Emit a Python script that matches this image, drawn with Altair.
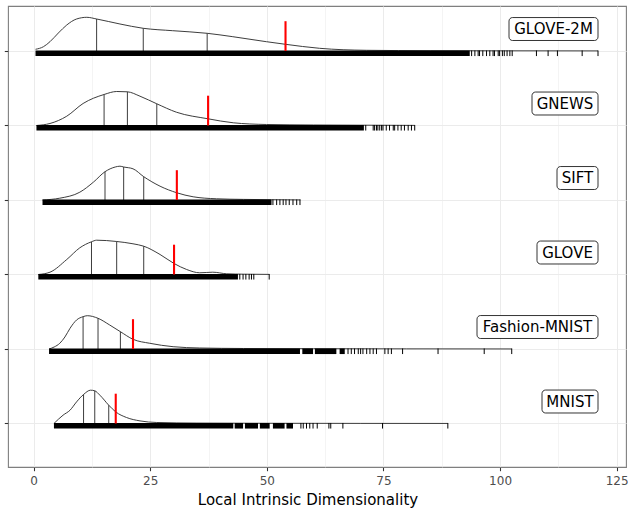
import altair as alt
import pandas as pd

# ---------------- data ----------------
DATASETS = ["GLOVE-2M", "GNEWS", "SIFT", "GLOVE", "Fashion-MNIST", "MNIST"]

# density curves: x values and ridge heights (arbitrary units, ~34 at the peak)
GLOVE2M_X = [0.4, 2.1, 3.5, 5.3, 7.1, 9.2, 11.4, 13.5, 18.5, 23.5, 29.8, 37.2, 42.7, 49.9, 54.0, 61.3, 71.4, 85, 100, 121]
GLOVE2M_D = [1.7, 4.3, 9.3, 18, 26, 32, 33.7, 32, 27, 22.7, 20.3, 17.7, 14.3, 9.3, 6.7, 2.7, 0.7, 0.3, 0.2, 0.1]
GNEWS_X = [0.6, 3.5, 7.1, 10.6, 15.1, 17.8, 20.1, 22.8, 26.4, 30.6, 37.4, 42.8, 49.9, 60, 70, 81.7]
GNEWS_D = [0, 2, 9.3, 22, 31, 34, 33.7, 29.3, 21.7, 13.3, 6.7, 2.7, 1, 0.5, 0.3, 0.1]
SIFT_X = [1.9, 5.6, 9.9, 12.8, 15.3, 17.5, 18.5, 19.3, 21.3, 23.6, 27.1, 30.7, 34.2, 39.2, 45, 51, 57.2]
SIFT_D = [0, 1.8, 7.8, 17.8, 28.3, 33, 33.8, 33, 31.2, 23.3, 13.8, 7.2, 3.2, 1.2, 0.6, 0.3, 0.1]
GLOVE_X = [1.0, 3.5, 7.1, 9.9, 12.4, 13.5, 17.8, 21.3, 23.6, 27.1, 30.1, 32.8, 35.6, 38.4, 41.4, 45, 50.5]
GLOVE_D = [0, 2.3, 15, 26.7, 32.7, 34.3, 33, 30.7, 28.3, 20, 11, 5, 1.7, 2.3, 0.7, 0.3, 0.1]
FMNIST_X = [3.3, 4.4, 5.6, 6.7, 7.8, 9.2, 10.6, 11.5, 13.8, 16.3, 18.6, 21.3, 24.9, 29.9, 35.6, 45, 60, 80, 102.5]
FMNIST_D = [0, 2, 5.7, 12, 20.7, 29, 32.3, 33.3, 30.7, 24, 17.3, 9.7, 5.7, 2.3, 1, 0.5, 0.3, 0.15, 0.05]
MNIST_X = [4.35, 6.3, 7.8, 9.2, 10.7, 12.2, 13.1, 14.2, 16.1, 17.6, 19.9, 22.8, 26.4, 35, 50, 70, 88.8]
MNIST_D = [0, 8.3, 13.3, 21.6, 29, 33.3, 32.7, 28.3, 18.3, 11.6, 6, 2.6, 1, 0.4, 0.2, 0.1, 0.05]

# quartile lines (x) and the ridge height at each
GLOVE2M_Q = [13.5, 23.5, 37.2]
GLOVE2M_QD = [32, 22.7, 17.7]
GNEWS_Q = [15.1, 20.1, 26.4]
GNEWS_QD = [31, 33.7, 21.7]
SIFT_Q = [15.3, 19.3, 23.6]
SIFT_QD = [28.3, 33, 23.3]
GLOVE_Q = [12.4, 17.8, 23.6]
GLOVE_QD = [32.7, 33, 28.3]
FMNIST_Q = [10.6, 13.8, 18.6]
FMNIST_QD = [32.3, 30.7, 17.3]
MNIST_Q = [10.7, 13.1, 16.1]
MNIST_QD = [29, 32.7, 18.3]

# red markers
RED_X = [54.0, 37.4, 30.7, 30.1, 21.3, 17.6]

# rug: dense stretches (start, end) and isolated ticks
GLOVE2M_RUG = [(0.4, 93.5)]
GLOVE2M_TICKS = [93.9, 94.6, 95.3, 95.6, 96.3, 97.1, 97.8, 98.5, 98.8, 99.6, 99.9, 100.5,
                 100.9, 101.5, 102.1, 102.6, 107.8, 110.3, 112.3, 117.6, 121.0]
GNEWS_RUG = [(0.6, 70.8)]
GNEWS_TICKS = [71.2, 72.8, 73.1, 73.5, 73.8, 74.2, 74.6, 74.9, 75.6, 76.3, 77.1, 77.4,
               78.1, 78.8, 79.5, 80.3, 81.0, 81.7]
SIFT_RUG = [(1.9, 51.0)]
SIFT_TICKS = [51.3, 52.1, 52.8, 53.5, 54.1, 54.8, 55.6, 56.4, 57.1]
GLOVE_RUG = [(1.0, 43.8)]
GLOVE_TICKS = [44.2, 44.9, 45.5, 46.2, 46.7, 47.2, 50.5]
FMNIST_RUG = [(3.3, 57.1), (57.6, 59.9), (60.3, 64.9), (65.6, 66.7)]
FMNIST_TICKS = [67.4, 68.1, 68.8, 69.6, 70.1, 70.6, 71.4, 72.1, 72.8, 73.5, 75.3, 76.0,
                76.7, 79.1, 86.7, 96.6, 102.5]
MNIST_RUG = [(4.35, 42.8), (43.1, 44.9), (45.3, 48.1), (48.5, 50.6), (51.3, 53.8), (54.2, 55.6)]
MNIST_TICKS = [57.3, 57.8, 58.5, 59.2, 59.9, 60.8, 63.3, 63.7, 66.3, 74.8, 88.8]

LABEL_X = 121.0  # labels sit at the overall maximum, right-aligned

# ---------------- styling constants ----------------
HEIGHT_PER_ROW = 74.5      # ridge-height units per row spacing
RED_LEN = 0.40             # red marker length, rows
RUG_TOP, RUG_BOT = 0.007, -0.068
LABEL_DY = 0.295
LABEL_HALF_H = 0.154
LABEL_BOX_PX = {"GLOVE-2M": 89, "GNEWS": 66, "SIFT": 41, "GLOVE": 61,
                "Fashion-MNIST": 121, "MNIST": 56}
W, H = 618, 461
XDOM = [-5.5, 127]
YDOM = [0.416, 6.604]
PX_PER_X = W / (XDOM[1] - XDOM[0])
FONT = "DejaVu Sans"

curves = [(GLOVE2M_X, GLOVE2M_D), (GNEWS_X, GNEWS_D), (SIFT_X, SIFT_D),
          (GLOVE_X, GLOVE_D), (FMNIST_X, FMNIST_D), (MNIST_X, MNIST_D)]
quarts = [(GLOVE2M_Q, GLOVE2M_QD), (GNEWS_Q, GNEWS_QD), (SIFT_Q, SIFT_QD),
          (GLOVE_Q, GLOVE_QD), (FMNIST_Q, FMNIST_QD), (MNIST_Q, MNIST_QD)]
rugs = [(GLOVE2M_RUG, GLOVE2M_TICKS), (GNEWS_RUG, GNEWS_TICKS), (SIFT_RUG, SIFT_TICKS),
        (GLOVE_RUG, GLOVE_TICKS), (FMNIST_RUG, FMNIST_TICKS), (MNIST_RUG, MNIST_TICKS)]

curve_rows, q_rows, red_rows, seg_rows, tick_rows, lab_rows = [], [], [], [], [], []
for i, name in enumerate(DATASETS):
    row = 6 - i
    xs_, ds_ = curves[i]
    for x, d in zip(xs_, ds_):
        curve_rows.append({"set": name, "row": row, "x": x, "top": row + d / HEIGHT_PER_ROW})
    for x, d in zip(*quarts[i]):
        q_rows.append({"set": name, "row": row, "x": x, "top": row + d / HEIGHT_PER_ROW})
    red_rows.append({"set": name, "row": row, "x": RED_X[i], "top": row + RED_LEN})
    segs, ticks = rugs[i]
    for a, b in segs:
        seg_rows.append({"set": name, "x0": a, "x1": b, "yt": row + RUG_TOP, "yb": row + RUG_BOT})
    for t in ticks:
        tick_rows.append({"set": name, "x": t, "yt": row + RUG_TOP, "yb": row + RUG_BOT})
    bx0 = LABEL_X - LABEL_BOX_PX[name] / PX_PER_X
    lab_rows.append({"set": name, "bx0": bx0, "bx1": LABEL_X, "cx": (bx0 + LABEL_X) / 2,
                     "yc": row + LABEL_DY, "yt": row + LABEL_DY + LABEL_HALF_H,
                     "yb": row + LABEL_DY - LABEL_HALF_H})

curve_df = pd.DataFrame(curve_rows)
q_df = pd.DataFrame(q_rows)
red_df = pd.DataFrame(red_rows)
seg_df = pd.DataFrame(seg_rows)
tick_df = pd.DataFrame(tick_rows)
lab_df = pd.DataFrame(lab_rows)

xscale = alt.Scale(domain=XDOM, nice=False, zero=False)
yscale = alt.Scale(domain=YDOM, nice=False, zero=False)

x_axis = alt.Axis(
    values=[0, 12.5, 25, 37.5, 50, 62.5, 75, 87.5, 100, 112.5, 125],
    labelExpr="datum.value % 25 === 0 ? format(datum.value, 'd') : ''",
    grid=True, gridColor="#ebebeb",
    gridWidth={"condition": {"test": "datum.value % 25 === 0", "value": 1.07}, "value": 0.55},
    tickOpacity={"condition": {"test": "datum.value % 25 === 0", "value": 1}, "value": 0},
    tickColor="#333333", tickSize=3.7, tickWidth=1.07,
    domain=False,
    labelFont=FONT, labelFontSize=12, labelColor="#4d4d4d",
    labelBaseline="alphabetic", labelPadding=13.3,
    titleFont=FONT, titleFontSize=15, titleFontWeight="normal", titleColor="black",
    titleBaseline="alphabetic", titleX=299.5, titleY=37, titleAlign="center",
)
y_axis = alt.Axis(
    values=[1, 2, 3, 4, 5, 6], labels=False, ticks=True, tickSize=3.7,
    tickColor="#333333", tickWidth=1.07, grid=True, gridColor="#ebebeb",
    gridWidth=1.07, domain=False, title=None,
)


def X(f):
    return alt.X(f, type="quantitative", scale=xscale, axis=x_axis,
                 title="Local Intrinsic Dimensionality")


def Y(f):
    return alt.Y(f, type="quantitative", scale=yscale, axis=y_axis, title=None)


area = alt.Chart(curve_df).mark_area(fill="white", interpolate="monotone").encode(
    x=X("x"), y=Y("top"), y2=alt.Y2("row"), detail="set:N")
line = alt.Chart(curve_df).mark_line(color="#333333", strokeWidth=0.95, interpolate="monotone").encode(
    x=X("x"), y=Y("top"), detail="set:N")
qlines = alt.Chart(q_df).mark_rule(color="#333333", strokeWidth=0.95).encode(
    x=X("x"), y=Y("row"), y2=alt.Y2("top"))
rug_seg = alt.Chart(seg_df).mark_rect(color="black").encode(
    x=X("x0"), x2=alt.X2("x1"), y=Y("yt"), y2=alt.Y2("yb"))
rug_tick = alt.Chart(tick_df).mark_rule(color="black", strokeWidth=1).encode(
    x=X("x"), y=Y("yt"), y2=alt.Y2("yb"))
red = alt.Chart(red_df).mark_rule(color="#ff0000", strokeWidth=2.1).encode(
    x=X("x"), y=Y("row"), y2=alt.Y2("top"))
boxes = alt.Chart(lab_df).mark_rect(fill="white", stroke="black", strokeWidth=0.8,
                                    cornerRadius=3.5).encode(
    x=X("bx0"), x2=alt.X2("bx1"), y=Y("yt"), y2=alt.Y2("yb"))
texts = alt.Chart(lab_df).mark_text(font=FONT, fontSize=15, color="black",
                                    align="center", baseline="middle").encode(
    x=X("cx"), y=Y("yc"), text="set:N")

chart = alt.layer(area, line, qlines, rug_seg, rug_tick, red, boxes, texts).properties(
    width=W, height=H,
    padding={"left": 8, "top": 6, "right": 2, "bottom": 41},
    autosize=alt.AutoSizeParams(type="none"),
    background="white",
).configure_view(stroke="#7f7f7f", strokeWidth=1.1)

chart.save("out.html", embed_options={"renderer": "svg", "actions": False})
